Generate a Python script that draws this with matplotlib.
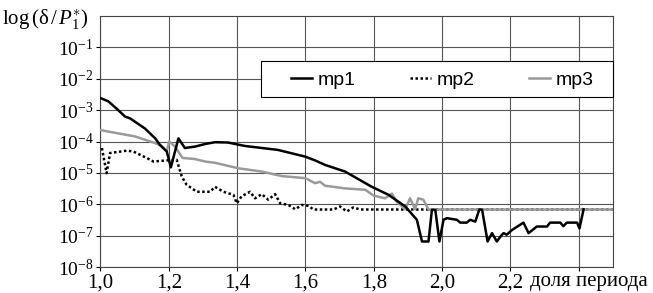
import matplotlib
matplotlib.use("Agg")
import matplotlib.pyplot as plt
from matplotlib.patches import Rectangle

plt.rcParams['font.family'] = ['Liberation Serif', 'DejaVu Serif']
plt.rcParams['mathtext.fontset'] = 'custom'
plt.rcParams['mathtext.rm'] = 'Liberation Serif'
plt.rcParams['mathtext.it'] = 'Liberation Serif:italic'

# mp1 (black solid)
x1 = [1.001, 1.023, 1.052, 1.072, 1.086, 1.130, 1.160, 1.174, 1.194, 1.206,
      1.228, 1.247, 1.277, 1.306, 1.335, 1.373, 1.423, 1.519, 1.599, 1.628,
      1.657, 1.716, 1.794, 1.843, 1.892, 1.926, 1.941, 1.960, 1.970, 1.980,
      1.992, 2.004, 2.014, 2.043, 2.053, 2.072, 2.082, 2.097, 2.109, 2.117,
      2.133, 2.146, 2.160, 2.175, 2.180, 2.189, 2.204, 2.238, 2.253, 2.277,
      2.307, 2.316, 2.346, 2.355, 2.365, 2.395, 2.402, 2.414]
y1 = [2.4e-3, 1.9e-3, 1.0e-3, 6.2e-4, 5.5e-4, 2.6e-4, 1.26e-4, 7.8e-5, 4.8e-5, 1.5e-5,
      1.26e-4, 6.2e-5, 6.9e-5, 8.3e-5, 9.5e-5, 9.3e-5, 7.2e-5, 5.4e-5, 3.3e-5, 2.5e-5,
      1.8e-5, 1.1e-5, 3.6e-6, 2.0e-6, 8.5e-7, 3.2e-7, 6.5e-8, 6.5e-8, 6.6e-7, 6.6e-7,
      6.5e-8, 3.2e-7, 3.6e-7, 3.2e-7, 2.6e-7, 2.6e-7, 3.2e-7, 2.8e-7, 6.9e-7, 6.6e-7,
      6.5e-8, 1.2e-7, 6.5e-8, 1.07e-7, 1.2e-7, 1.07e-7, 1.5e-7, 2.6e-7, 1.2e-7, 1.95e-7,
      1.95e-7, 2.6e-7, 2.6e-7, 2.0e-7, 2.6e-7, 2.6e-7, 1.7e-7, 6.9e-7]

# mp2 (black dotted)
x2 = [1.004, 1.018, 1.028, 1.077, 1.096, 1.135, 1.155, 1.194, 1.223, 1.238,
      1.252, 1.282, 1.321, 1.335, 1.360, 1.389, 1.399, 1.413, 1.428, 1.438,
      1.452, 1.472, 1.491, 1.511, 1.526, 1.550, 1.570, 1.589, 1.609, 1.623,
      1.682, 1.701, 1.721, 1.740, 1.760, 2.500]
y2 = [6.2e-5, 9.8e-6, 4.3e-5, 5.1e-5, 4.8e-5, 3.0e-5, 2.3e-5, 2.5e-5, 2.6e-5, 7.6e-6,
      4.2e-6, 2.5e-6, 2.5e-6, 3.6e-6, 2.5e-6, 2.0e-6, 1.07e-6, 1.8e-6, 2.2e-6, 2.5e-6,
      1.55e-6, 2.1e-6, 1.4e-6, 2.1e-6, 1.07e-6, 9.5e-7, 6.9e-7, 9.5e-7, 8.9e-7, 6.8e-7,
      6.8e-7, 8.5e-7, 5.9e-7, 7.9e-7, 6.8e-7, 6.8e-7]

# mp3 (gray solid)
x3 = [1.001, 1.042, 1.101, 1.160, 1.179, 1.194, 1.201, 1.218, 1.240, 1.277,
      1.306, 1.335, 1.404, 1.472, 1.531, 1.599, 1.628, 1.643, 1.657, 1.716,
      1.775, 1.799, 1.833, 1.853, 1.867, 1.892, 1.906, 1.921, 1.930, 1.945,
      1.960, 2.500]
y3 = [2.3e-4, 1.9e-4, 1.45e-4, 8.9e-5, 7.2e-5, 4.8e-5, 1.0e-4, 6.9e-5, 3.0e-5, 2.75e-5,
      2.3e-5, 2.1e-5, 1.4e-5, 1.1e-5, 7.9e-6, 6.8e-6, 4.7e-6, 5.2e-6, 3.9e-6, 3.2e-6,
      2.9e-6, 1.9e-6, 1.55e-6, 2.2e-6, 1.2e-6, 6.9e-7, 1.55e-6, 6.9e-7, 1.55e-6, 1.4e-6,
      6.8e-7, 6.8e-7]

xticks = [1.0, 1.2, 1.4, 1.6, 1.8, 2.0, 2.2, 2.4]
xlabels = ['1,0', '1,2', '1,4', '1,6', '1,8', '2,0', '2,2', '']
yticks = [1e-8, 1e-7, 1e-6, 1e-5, 1e-4, 1e-3, 1e-2, 1e-1]
ylabels = [r'$10^{-%d}$' % k for k in range(8, 0, -1)]

fig = plt.figure(figsize=(6.53, 2.93), dpi=100)
ax = fig.add_axes([0.1539, 0.0887, 0.7848, 0.8567])

l2, = ax.plot(x2, y2, color='black', lw=1.8, ls=(0, (1, 1)), label='mp2', zorder=3)
l3, = ax.plot(x3, y3, color='#9a9a9a', lw=1.8, label='mp3', zorder=4)
l1, = ax.plot(x1, y1, color='black', lw=1.8, label='mp1', zorder=5)

ax.set_yscale('log')
ax.set_xlim(1.0, 2.5)
ax.set_ylim(1e-8, 1e0)
ax.set_xticks(xticks)
ax.set_xticklabels(xlabels, fontsize=15)
ax.set_yticks(yticks)
ax.set_yticklabels(ylabels, fontsize=14)
ax.minorticks_off()
ax.tick_params(axis='both', direction='out', length=3, width=0.8, colors='black', pad=2)
ax.grid(True, color='#555555', lw=0.8)
for s in ax.spines.values():
    s.set_color('#444444')
    s.set_linewidth(0.8)

# legend box
ax.add_patch(Rectangle((0.3126, 0.677), 0.6874, 0.145, transform=ax.transAxes,
                       facecolor='white', edgecolor='black', lw=0.8, zorder=9,
                       clip_on=False))
leg = ax.legend([l1, l2, l3], ['mp1', 'mp2', 'mp3'],
                loc='lower left', bbox_to_anchor=(0.357, 0.68, 0.62, 0.14),
                mode='expand', ncol=3, borderaxespad=0, frameon=False,
                handlelength=1.05, handletextpad=0.3,
                prop={'family': 'Liberation Sans', 'size': 14})
leg.set_zorder(10)

fig.text(0.003, 0.935, r'$\mathrm{log}\,\left(\mathrm{δ}\,/\,P_1^{\ast}\right)$', fontsize=15,
         ha='left', va='center')
fig.text(0.812, 0.038, 'доля периода', fontsize=15, ha='left', va='center')

fig.savefig('out.png', dpi=100)
